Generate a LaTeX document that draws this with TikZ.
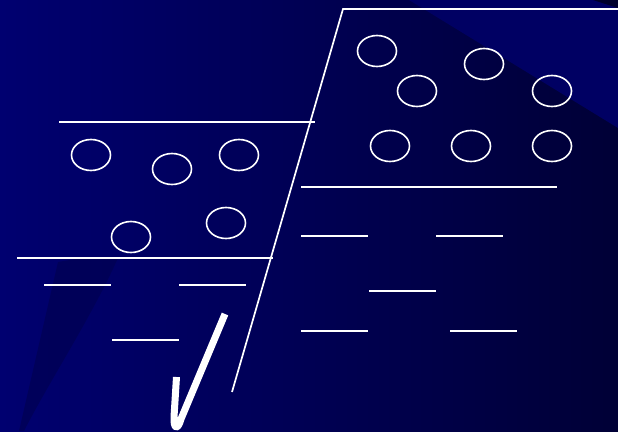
\documentclass[tikz,border=0pt]{standalone}
\usetikzlibrary{shapes.geometric}
\definecolor{bgleft}{HTML}{000070}
\definecolor{bgright}{HTML}{000036}
\definecolor{bgtri}{HTML}{000063}
\definecolor{bgwedge}{HTML}{00004E}
\begin{document}
\begin{tikzpicture}[x=1pt,y=-1pt,
  wline/.style={draw=white,line width=1.7pt},
  bead/.style={ellipse,draw=white,line width=1.6pt,minimum width=39pt,minimum height=31pt,inner sep=0pt},
  tick/.style={draw=white,line width=7pt,line join=round,line cap=butt}]
\useasboundingbox (0,0) rectangle (618,431);
\shade[left color=bgleft,right color=bgright] (0,0) rectangle (618,431);
% lighter upper-right triangle
\fill[bgtri] (409,0) -- (618,0) -- (618,128) -- cycle;
\fill[bgright!80!black] (593,0) -- (618,0) -- (618,8) -- cycle;
% subtle dark wedge bottom left
\fill[bgwedge,opacity=0.6] (19,431) -- (58,262) .. controls (80,258) and (100,256) .. (118,258) .. controls (90,320) and (50,380) .. (24,431) -- cycle;
% frame lines
\coordinate (ftop) at (343,9);
\coordinate (fbot) at (232,392);
\coordinate (ftr) at (618,9);
\draw[wline] (fbot) -- (ftop) -- (ftr);
\coordinate (l1a) at (59,122); \coordinate (l1b) at (315,122);
\coordinate (l2a) at (17,258); \coordinate (l2b) at (273,258);
\coordinate (r1a) at (301,187); \coordinate (r1b) at (557,187);
\draw[wline] (l1a) -- (l1b);
\draw[wline] (l2a) -- (l2b);
\draw[wline] (r1a) -- (r1b);
% short dashes
\foreach \xa/\y [count=\i] in {44/285,179/285,112/340,301/236,436/236,369/291,301/331,450/331}{
  \coordinate (d\i a) at (\xa,\y);
  \coordinate (d\i b) at (\xa+67,\y);
  \draw[wline] (d\i a) -- (d\i b);
}
% beads left
\node[bead] (b1) at (91,155) {};
\node[bead] (b2) at (172,169) {};
\node[bead] (b3) at (239,155) {};
\node[bead] (b4) at (131,237) {};
\node[bead] (b5) at (226,223) {};
% beads right
\node[bead] (c1) at (377,51) {};
\node[bead] (c2) at (484,64) {};
\node[bead] (c3) at (417,91) {};
\node[bead] (c4) at (552,91) {};
\node[bead] (c5) at (390,146) {};
\node[bead] (c6) at (471,146) {};
\node[bead] (c7) at (552,146) {};
% check mark
\coordinate (k1) at (176.5,377);
\coordinate (k2) at (174,417);
\coordinate (k3) at (181,419);
\coordinate (k4) at (225,314);
\draw[tick] (k1) -- (k2) .. controls (173.5,430) and (178,430) .. (k3) -- (k4);
\end{tikzpicture}
\end{document}
